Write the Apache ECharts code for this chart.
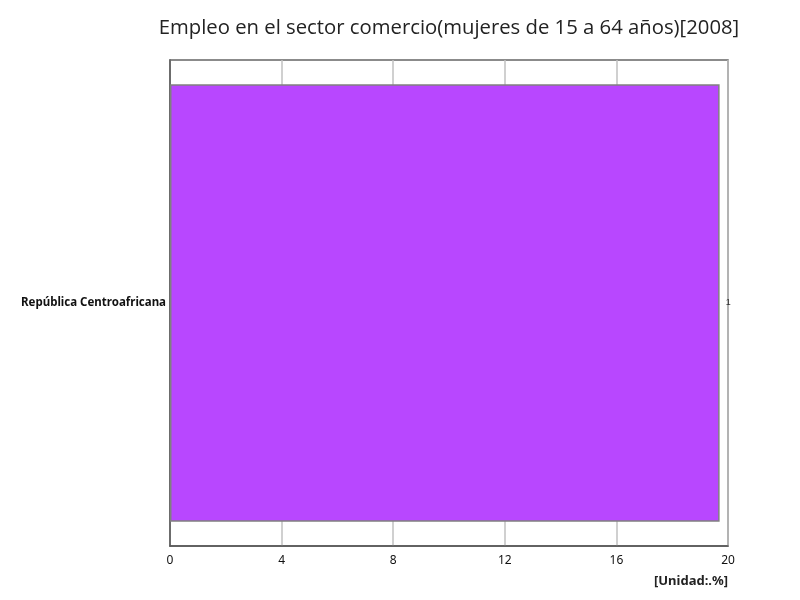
<!DOCTYPE html>
<html><head><meta charset="utf-8">
<script src="https://cdn.jsdelivr.net/npm/echarts@6/dist/echarts.min.js"></script>
<style>html,body{margin:0;padding:0;background:#fff}#c{width:800px;height:600px}</style>
</head><body><div id="c"></div>
<script>
const categories = ["República Centroafricana"];
const values = [19.7];
const xTicks = [0, 4, 8, 12, 16, 20];

const chart = echarts.init(document.getElementById('c'));
chart.setOption({
  animation: false,
  title: {
    text: 'Empleo en el sector comercio(mujeres de 15 a 64 años)[2008]',
    left: 444, top: 13, textAlign: 'center',
    textStyle: { fontFamily: 'Open Sans', fontSize: 20.3, fontWeight: 'normal', color: '#222' }
  },
  grid: { left: 170, right: 72, top: 60, bottom: 54, show: true, borderColor: '#666', borderWidth: 1.5, backgroundColor: 'transparent' },
  xAxis: {
    type: 'value', min: xTicks[0], max: xTicks[xTicks.length - 1], interval: 4,
    axisLine: { show: true, lineStyle: { color: '#555', width: 1.5 } },
    axisTick: { show: false },
    splitLine: { show: true, lineStyle: { color: '#c0c0c0', width: 1.5 } },
    axisLabel: { color: '#111', fontSize: 12, fontFamily: 'Noto Sans', margin: 9 }
  },
  yAxis: {
    type: 'category', data: categories,
    axisLine: { show: true, lineStyle: { color: '#555', width: 1.5 } },
    axisTick: { show: false },
    axisLabel: { color: '#111', fontSize: 11.5, fontWeight: 'bold', fontFamily: 'Noto Sans', margin: 4 }
  },
  graphic: [{
    type: 'text', right: 72, top: 575,
    style: { text: '[Unidad:.%]', fontSize: 13, fontWeight: 'bold', fill: '#222', fontFamily: 'Noto Sans', textAlign: 'right' }
  }],
  series: [{
    type: 'bar', data: values, barCategoryGap: '10%',
    itemStyle: { color: '#b847ff', borderColor: '#808080', borderWidth: 1.5 },
    label: { show: true, position: 'right', distance: 6, fontSize: 9, color: '#333', width: 7, overflow: 'truncate', ellipsis: '' }
  }]
});
</script></body></html>
